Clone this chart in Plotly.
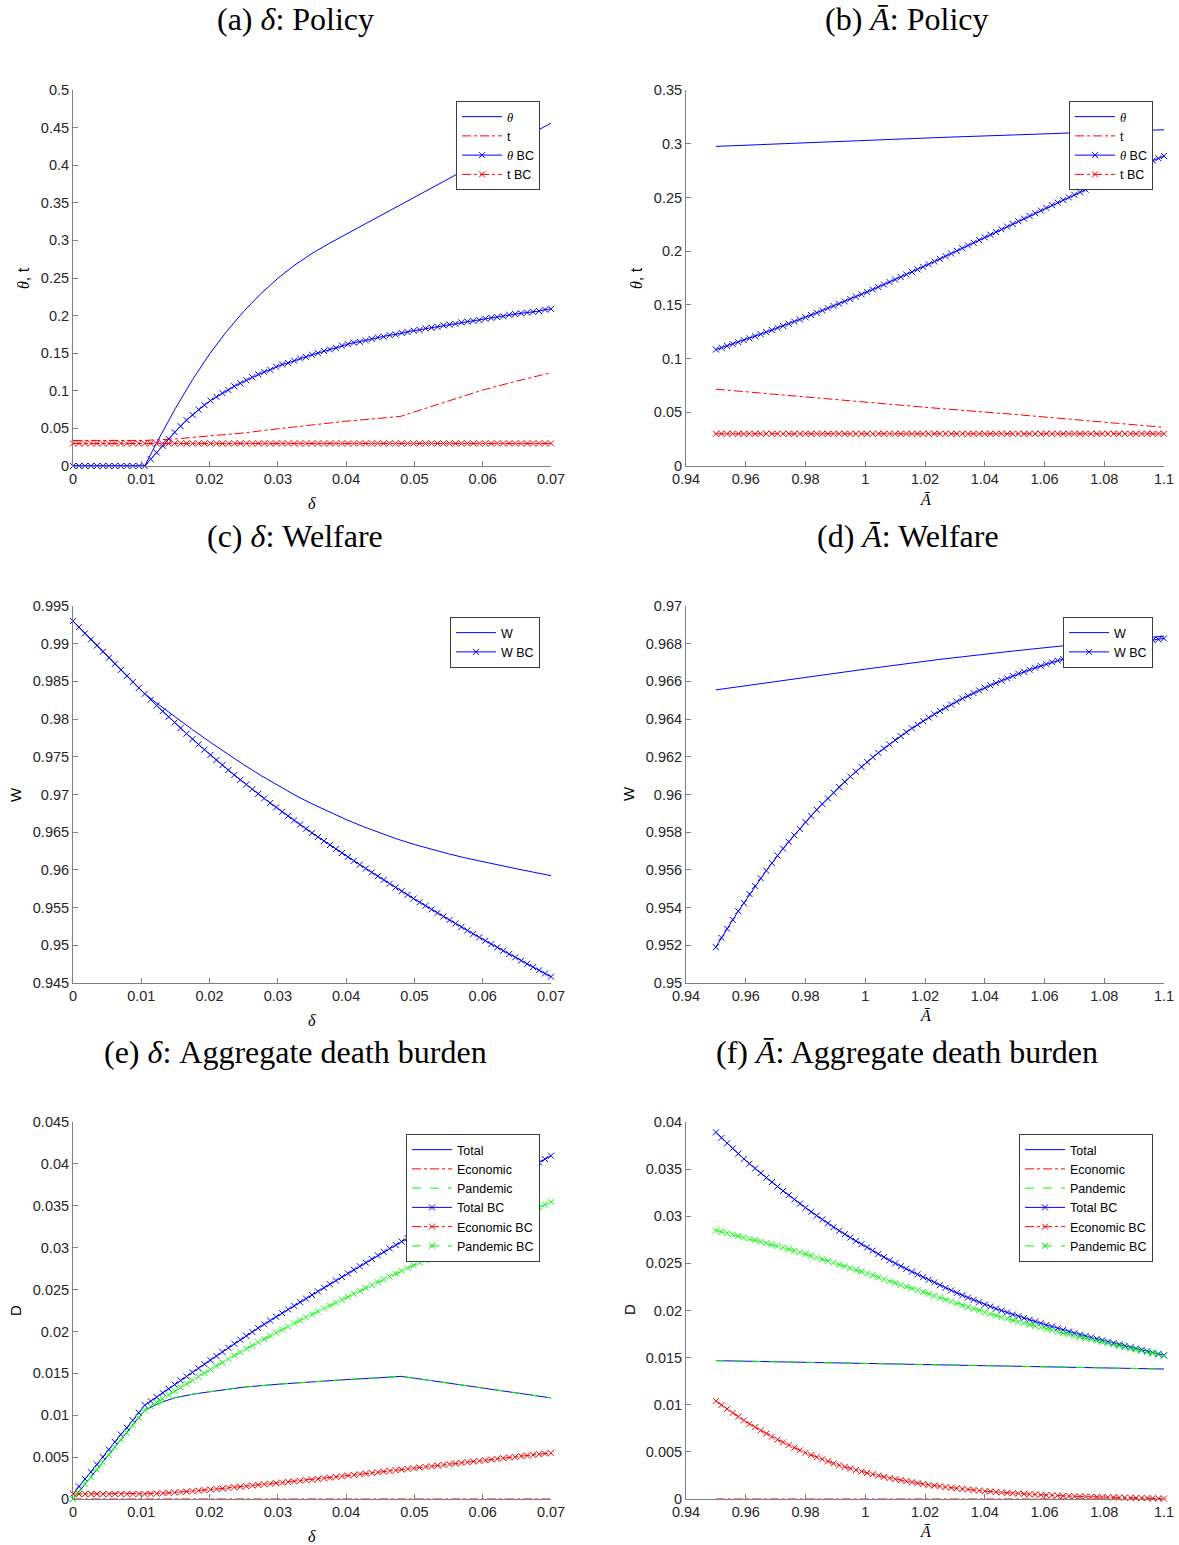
import numpy as np
import plotly.graph_objects as go

# ---------------- parameter grids ----------------
delta_grid = np.linspace(0.0, 0.07, 81)
abar_grid = np.linspace(0.95, 1.10, 81)

# ---------------- (a) delta : policy ----------------
delta_theta_x = [0, 0.0105, 0.0125, 0.015, 0.0175, 0.02, 0.0225, 0.025, 0.0275, 0.03, 0.0325,
                 0.035, 0.0375, 0.04, 0.0425, 0.045, 0.048, 0.05, 0.055, 0.06, 0.065, 0.07]
theta_delta = [0, 0, 0.0352, 0.0767, 0.1148, 0.1489, 0.1790, 0.2056, 0.2291, 0.2496, 0.2674,
               0.2827, 0.2959, 0.3082, 0.3202, 0.3322, 0.3466, 0.3565, 0.3813, 0.4062, 0.4311, 0.456]
delta_t_x = [0, 0.0105, 0.015, 0.02, 0.025, 0.03, 0.035, 0.04, 0.045, 0.048, 0.05, 0.055, 0.06, 0.065, 0.07]
t_delta = [0.034, 0.034, 0.036, 0.040, 0.044, 0.0495, 0.0548, 0.0596, 0.0635, 0.066, 0.072, 0.087,
           0.101, 0.113, 0.124]
theta_bc_delta = [
    0, 0, 0, 0, 0, 0, 0, 0, 0, 0,
    0, 0, 0, 0.009, 0.018, 0.027, 0.036, 0.045, 0.053, 0.061,
    0.068, 0.075, 0.081, 0.087, 0.092, 0.097, 0.101, 0.106, 0.110, 0.114,
    0.118, 0.122, 0.125, 0.128, 0.132, 0.135, 0.137, 0.140, 0.143, 0.145,
    0.148, 0.150, 0.153, 0.155, 0.157, 0.160, 0.162, 0.164, 0.165, 0.167,
    0.169, 0.171, 0.172, 0.174, 0.175, 0.177, 0.178, 0.180, 0.181, 0.183,
    0.184, 0.185, 0.187, 0.188, 0.189, 0.191, 0.192, 0.193, 0.194, 0.196,
    0.197, 0.198, 0.199, 0.201, 0.202, 0.203, 0.204, 0.205, 0.206, 0.208,
    0.209]
t_bc_delta = [
    0.03, 0.03, 0.03, 0.03, 0.03, 0.03, 0.03, 0.03, 0.03, 0.03,
    0.03, 0.03, 0.03, 0.03, 0.03, 0.03, 0.03, 0.03, 0.03, 0.03,
    0.03, 0.03, 0.03, 0.03, 0.03, 0.03, 0.03, 0.03, 0.03, 0.03,
    0.03, 0.03, 0.03, 0.03, 0.03, 0.03, 0.03, 0.03, 0.03, 0.03,
    0.03, 0.03, 0.03, 0.03, 0.03, 0.03, 0.03, 0.03, 0.03, 0.03,
    0.03, 0.03, 0.03, 0.03, 0.03, 0.03, 0.03, 0.03, 0.03, 0.03,
    0.03, 0.03, 0.03, 0.03, 0.03, 0.03, 0.03, 0.03, 0.03, 0.03,
    0.03, 0.03, 0.03, 0.03, 0.03, 0.03, 0.03, 0.03, 0.03, 0.03,
    0.03]

# ---------------- (b) Abar : policy ----------------
abar_line_x = [0.95, 0.975, 1.0, 1.025, 1.05, 1.075, 1.1]
theta_abar = [0.2975, 0.3005, 0.3033, 0.3058, 0.3082, 0.3107, 0.3130]
t_abar = [0.0715, 0.0653, 0.0592, 0.0535, 0.0480, 0.0420, 0.0360]
theta_bc_abar = [
    0.1084, 0.1101, 0.1118, 0.1135, 0.1153, 0.1171, 0.1189, 0.1208, 0.1227, 0.1246,
    0.1265, 0.1285, 0.1304, 0.1324, 0.1344, 0.1364, 0.1384, 0.1405, 0.1426, 0.1447,
    0.1468, 0.1489, 0.1510, 0.1532, 0.1554, 0.1576, 0.1598, 0.1620, 0.1643, 0.1666,
    0.1689, 0.1712, 0.1735, 0.1758, 0.1782, 0.1806, 0.1830, 0.1854, 0.1878, 0.1903,
    0.1928, 0.1953, 0.1978, 0.2003, 0.2028, 0.2053, 0.2078, 0.2103, 0.2128, 0.2153,
    0.2178, 0.2203, 0.2228, 0.2253, 0.2278, 0.2303, 0.2328, 0.2353, 0.2378, 0.2403,
    0.2428, 0.2452, 0.2476, 0.2500, 0.2524, 0.2548, 0.2572, 0.2596, 0.2620, 0.2643,
    0.2666, 0.2689, 0.2712, 0.2734, 0.2756, 0.2778, 0.2800, 0.2822, 0.2843, 0.2864,
    0.2885]
t_bc_abar = [
    0.03, 0.03, 0.03, 0.03, 0.03, 0.03, 0.03, 0.03, 0.03, 0.03,
    0.03, 0.03, 0.03, 0.03, 0.03, 0.03, 0.03, 0.03, 0.03, 0.03,
    0.03, 0.03, 0.03, 0.03, 0.03, 0.03, 0.03, 0.03, 0.03, 0.03,
    0.03, 0.03, 0.03, 0.03, 0.03, 0.03, 0.03, 0.03, 0.03, 0.03,
    0.03, 0.03, 0.03, 0.03, 0.03, 0.03, 0.03, 0.03, 0.03, 0.03,
    0.03, 0.03, 0.03, 0.03, 0.03, 0.03, 0.03, 0.03, 0.03, 0.03,
    0.03, 0.03, 0.03, 0.03, 0.03, 0.03, 0.03, 0.03, 0.03, 0.03,
    0.03, 0.03, 0.03, 0.03, 0.03, 0.03, 0.03, 0.03, 0.03, 0.03,
    0.03]

# ---------------- (c) delta : welfare ----------------
delta_w_x = [0, 0.0035, 0.007, 0.0105, 0.0125, 0.015, 0.0175, 0.02, 0.0225, 0.025, 0.0275, 0.03,
             0.0325, 0.035, 0.0375, 0.04, 0.0425, 0.045, 0.0475, 0.05, 0.0525, 0.055, 0.0575,
             0.06, 0.065, 0.07]
w_delta = [0.9930, 0.98975, 0.98652, 0.98335, 0.98195, 0.98025, 0.97860, 0.97700, 0.97545, 0.97395,
           0.97253, 0.97118, 0.96992, 0.96876, 0.96768, 0.96668, 0.96574, 0.96487, 0.96408, 0.96337,
           0.96272, 0.96213, 0.96158, 0.96108, 0.96014, 0.95923]
w_bc_delta = [
    0.99300, 0.99219, 0.99137, 0.99056, 0.98975, 0.98894, 0.98813, 0.98732, 0.98652, 0.98572,
    0.98492, 0.98413, 0.98335, 0.98257, 0.98180, 0.98104, 0.98029, 0.97954, 0.97880, 0.97807,
    0.97735, 0.97664, 0.97594, 0.97525, 0.97457, 0.97390, 0.97324, 0.97259, 0.97195, 0.97132,
    0.97070, 0.97009, 0.96948, 0.96888, 0.96829, 0.96771, 0.96714, 0.96657, 0.96601, 0.96546,
    0.96491, 0.96437, 0.96383, 0.96330, 0.96277, 0.96224, 0.96172, 0.96120, 0.96069, 0.96018,
    0.95967, 0.95917, 0.95867, 0.95817, 0.95767, 0.95718, 0.95669, 0.95620, 0.95572, 0.95524,
    0.95476, 0.95429, 0.95382, 0.95335, 0.95289, 0.95243, 0.95197, 0.95151, 0.95106, 0.95061,
    0.95016, 0.94972, 0.94928, 0.94884, 0.94840, 0.94797, 0.94754, 0.94711, 0.94668, 0.94626,
    0.94584]

# ---------------- (d) Abar : welfare ----------------
w_abar = [0.96555, 0.96612, 0.96665, 0.96717, 0.96762, 0.96803, 0.96840]
w_bc_abar = [
    0.95190, 0.95240, 0.95288, 0.95335, 0.95381, 0.95424, 0.95472, 0.95515, 0.95556, 0.95596,
    0.95636, 0.95676, 0.95713, 0.95749, 0.95784, 0.95817, 0.95854, 0.95887, 0.95919, 0.95950,
    0.95979, 0.96010, 0.96040, 0.96068, 0.96095, 0.96121, 0.96147, 0.96173, 0.96198, 0.96221,
    0.96244, 0.96266, 0.96289, 0.96310, 0.96331, 0.96351, 0.96370, 0.96389, 0.96408, 0.96426,
    0.96443, 0.96460, 0.96477, 0.96493, 0.96509, 0.96523, 0.96538, 0.96552, 0.96566, 0.96579,
    0.96592, 0.96604, 0.96616, 0.96629, 0.96641, 0.96651, 0.96662, 0.96672, 0.96682, 0.96692,
    0.96702, 0.96710, 0.96719, 0.96727, 0.96735, 0.96743, 0.96750, 0.96757, 0.96764, 0.96771,
    0.96777, 0.96783, 0.96789, 0.96794, 0.96799, 0.96806, 0.96810, 0.96815, 0.96819, 0.96823,
    0.96828]

# ---------------- (e) delta : death burden ----------------
delta_d_x = [0, 0.0105, 0.012, 0.0135, 0.015, 0.0175, 0.02, 0.025, 0.03, 0.035, 0.04, 0.045,
             0.048, 0.05, 0.055, 0.06, 0.065, 0.07]
total_delta = [0.0, 0.0106, 0.0112, 0.0117, 0.0121, 0.0125, 0.0128, 0.01335, 0.0137, 0.0140,
               0.01425, 0.01448, 0.01464, 0.01442, 0.01384, 0.01326, 0.01267, 0.01207]
economic_delta = [0.0, 0.0, 0.0, 0.0, 0.0, 0.0, 0.0, 0.0, 0.0, 0.0, 0.0, 0.0, 0.0, 0.0, 0.0, 0.0, 0.0, 0.0]
pandemic_delta = [0.0, 0.0106, 0.0112, 0.0117, 0.0121, 0.0125, 0.0128, 0.01335, 0.0137, 0.0140,
                  0.01425, 0.01448, 0.01464, 0.01442, 0.01384, 0.01326, 0.01267, 0.01207]
total_bc_delta = [
    0.0006, 0.0015, 0.0024, 0.0032, 0.0041, 0.0050, 0.0059, 0.0068, 0.0077, 0.0085,
    0.0094, 0.0103, 0.0112, 0.01168, 0.01216, 0.01266, 0.01315, 0.01366, 0.01415, 0.01463,
    0.01512, 0.01561, 0.01610, 0.01658, 0.01707, 0.01756, 0.01805, 0.01853, 0.01901, 0.01948,
    0.01994, 0.02040, 0.02085, 0.02130, 0.02175, 0.02219, 0.02263, 0.02306, 0.02349, 0.02392,
    0.02435, 0.02478, 0.02521, 0.02564, 0.02607, 0.02650, 0.02693, 0.02736, 0.02779, 0.02822,
    0.02865, 0.02908, 0.02950, 0.02991, 0.03032, 0.03073, 0.03114, 0.03155, 0.03196, 0.03237,
    0.03278, 0.03319, 0.03360, 0.03401, 0.03442, 0.03483, 0.03524, 0.03565, 0.03606, 0.03647,
    0.03688, 0.03729, 0.03770, 0.03811, 0.03852, 0.03893, 0.03934, 0.03975, 0.04016, 0.04057,
    0.04098]
economic_bc_delta = [
    0.0006, 0.0006, 0.0006, 0.0006, 0.0006, 0.0006, 0.0006, 0.0006, 0.0006, 0.0006,
    0.0006, 0.0006, 0.0006, 0.00062, 0.00065, 0.00069, 0.00073, 0.00078, 0.00083, 0.00088,
    0.00094, 0.00100, 0.00106, 0.00112, 0.00119, 0.00126, 0.00133, 0.00140, 0.00147, 0.00154,
    0.00161, 0.00168, 0.00175, 0.00182, 0.00189, 0.00196, 0.00203, 0.00210, 0.00217, 0.00224,
    0.00231, 0.00239, 0.00247, 0.00255, 0.00263, 0.00271, 0.00279, 0.00287, 0.00295, 0.00303,
    0.00311, 0.00319, 0.00327, 0.00335, 0.00343, 0.00351, 0.00359, 0.00367, 0.00375, 0.00383,
    0.00391, 0.00399, 0.00407, 0.00415, 0.00423, 0.00431, 0.00439, 0.00447, 0.00455, 0.00463,
    0.00471, 0.00479, 0.00487, 0.00495, 0.00503, 0.00511, 0.00519, 0.00527, 0.00535, 0.00543,
    0.00551]
pandemic_bc_delta = [
    0.0000, 0.0009, 0.0018, 0.0026, 0.0035, 0.0044, 0.0053, 0.0062, 0.0071, 0.0079,
    0.0088, 0.0097, 0.0106, 0.01106, 0.01151, 0.01197, 0.01242, 0.01288, 0.01332, 0.01375,
    0.01418, 0.01461, 0.01504, 0.01546, 0.01588, 0.01630, 0.01672, 0.01713, 0.01754, 0.01794,
    0.01833, 0.01872, 0.01910, 0.01948, 0.01986, 0.02023, 0.02060, 0.02096, 0.02132, 0.02168,
    0.02204, 0.02239, 0.02274, 0.02309, 0.02344, 0.02379, 0.02414, 0.02449, 0.02484, 0.02519,
    0.02554, 0.02589, 0.02623, 0.02656, 0.02689, 0.02722, 0.02755, 0.02788, 0.02821, 0.02854,
    0.02887, 0.02920, 0.02953, 0.02986, 0.03019, 0.03052, 0.03085, 0.03118, 0.03151, 0.03184,
    0.03217, 0.03250, 0.03283, 0.03316, 0.03349, 0.03382, 0.03415, 0.03448, 0.03481, 0.03514,
    0.03547]

# ---------------- (f) Abar : death burden ----------------
total_abar = [0.01468, 0.01453, 0.01438, 0.01423, 0.01408, 0.01393, 0.01379]
economic_abar = [0.0, 0.0, 0.0, 0.0, 0.0, 0.0, 0.0]
pandemic_abar = [0.01468, 0.01453, 0.01438, 0.01423, 0.01408, 0.01393, 0.01379]
total_bc_abar = [
    0.03890, 0.03832, 0.03775, 0.03719, 0.03664, 0.03609, 0.03557, 0.03507, 0.03458, 0.03409,
    0.03362, 0.03315, 0.03269, 0.03223, 0.03178, 0.03134, 0.03090, 0.03048, 0.03007, 0.02966,
    0.02925, 0.02884, 0.02846, 0.02810, 0.02774, 0.02738, 0.02704, 0.02669, 0.02635, 0.02600,
    0.02566, 0.02533, 0.02500, 0.02470, 0.02442, 0.02412, 0.02383, 0.02354, 0.02326, 0.02298,
    0.02269, 0.02241, 0.02214, 0.02187, 0.02162, 0.02137, 0.02113, 0.02088, 0.02063, 0.02042,
    0.02020, 0.01999, 0.01979, 0.01957, 0.01938, 0.01919, 0.01901, 0.01883, 0.01864, 0.01846,
    0.01829, 0.01811, 0.01794, 0.01776, 0.01759, 0.01744, 0.01729, 0.01714, 0.01700, 0.01684,
    0.01669, 0.01655, 0.01640, 0.01626, 0.01611, 0.01597, 0.01583, 0.01567, 0.01553, 0.01539,
    0.01525]
economic_bc_abar = [
    0.01040, 0.00997, 0.00955, 0.00914, 0.00874, 0.00834, 0.00797, 0.00762, 0.00728, 0.00694,
    0.00662, 0.00631, 0.00601, 0.00572, 0.00544, 0.00517, 0.00490, 0.00467, 0.00444, 0.00422,
    0.00400, 0.00378, 0.00358, 0.00341, 0.00324, 0.00307, 0.00291, 0.00276, 0.00262, 0.00248,
    0.00235, 0.00222, 0.00210, 0.00199, 0.00189, 0.00178, 0.00168, 0.00158, 0.00150, 0.00142,
    0.00134, 0.00127, 0.00120, 0.00113, 0.00107, 0.00101, 0.00095, 0.00089, 0.00083, 0.00079,
    0.00074, 0.00070, 0.00066, 0.00061, 0.00058, 0.00054, 0.00051, 0.00048, 0.00044, 0.00041,
    0.00039, 0.00036, 0.00034, 0.00031, 0.00029, 0.00027, 0.00025, 0.00023, 0.00022, 0.00020,
    0.00018, 0.00017, 0.00015, 0.00014, 0.00012, 0.00011, 0.00010, 0.00008, 0.00007, 0.00006,
    0.00005]
pandemic_bc_abar = [
    0.02850, 0.02835, 0.02820, 0.02805, 0.02790, 0.02775, 0.02760, 0.02745, 0.02730, 0.02715,
    0.02700, 0.02684, 0.02668, 0.02651, 0.02634, 0.02617, 0.02600, 0.02581, 0.02563, 0.02544,
    0.02525, 0.02506, 0.02488, 0.02469, 0.02450, 0.02431, 0.02413, 0.02393, 0.02373, 0.02352,
    0.02331, 0.02311, 0.02290, 0.02271, 0.02253, 0.02234, 0.02215, 0.02196, 0.02176, 0.02156,
    0.02135, 0.02114, 0.02094, 0.02074, 0.02055, 0.02036, 0.02018, 0.01999, 0.01980, 0.01963,
    0.01946, 0.01929, 0.01913, 0.01896, 0.01880, 0.01865, 0.01850, 0.01835, 0.01820, 0.01805,
    0.01790, 0.01775, 0.01760, 0.01745, 0.01730, 0.01717, 0.01704, 0.01691, 0.01678, 0.01664,
    0.01651, 0.01638, 0.01625, 0.01612, 0.01599, 0.01586, 0.01573, 0.01559, 0.01546, 0.01533,
    0.01520]

# ---------------- tick values / labels ----------------
delta_ticks = [0, 0.01, 0.02, 0.03, 0.04, 0.05, 0.06, 0.07]
delta_ticktext = ["0", "0.01", "0.02", "0.03", "0.04", "0.05", "0.06", "0.07"]
abar_ticks = [0.94, 0.96, 0.98, 1.0, 1.02, 1.04, 1.06, 1.08, 1.1]
abar_ticktext = ["0.94", "0.96", "0.98", "1", "1.02", "1.04", "1.06", "1.08", "1.1"]
ya_ticks = [0, 0.05, 0.1, 0.15, 0.2, 0.25, 0.3, 0.35, 0.4, 0.45, 0.5]
ya_text = ["0", "0.05", "0.1", "0.15", "0.2", "0.25", "0.3", "0.35", "0.4", "0.45", "0.5"]
yb_ticks = [0, 0.05, 0.1, 0.15, 0.2, 0.25, 0.3, 0.35]
yb_text = ["0", "0.05", "0.1", "0.15", "0.2", "0.25", "0.3", "0.35"]
yc_ticks = [0.945, 0.95, 0.955, 0.96, 0.965, 0.97, 0.975, 0.98, 0.985, 0.99, 0.995]
yc_text = ["0.945", "0.95", "0.955", "0.96", "0.965", "0.97", "0.975", "0.98", "0.985", "0.99", "0.995"]
yd_ticks = [0.95, 0.952, 0.954, 0.956, 0.958, 0.96, 0.962, 0.964, 0.966, 0.968, 0.97]
yd_text = ["0.95", "0.952", "0.954", "0.956", "0.958", "0.96", "0.962", "0.964", "0.966", "0.968", "0.97"]
ye_ticks = [0, 0.005, 0.01, 0.015, 0.02, 0.025, 0.03, 0.035, 0.04, 0.045]
ye_text = ["0", "0.005", "0.01", "0.015", "0.02", "0.025", "0.03", "0.035", "0.04", "0.045"]
yf_ticks = [0, 0.005, 0.01, 0.015, 0.02, 0.025, 0.03, 0.035, 0.04]
yf_text = ["0", "0.005", "0.01", "0.015", "0.02", "0.025", "0.03", "0.035", "0.04"]

# ---------------- styling / geometry ----------------
FIG_W, FIG_H = 1179, 1545


def fx(X):
    return X / FIG_W


def fy(Y):
    return 1 - Y / FIG_H


BLUE, RED, GREEN = "#0000FF", "#FF0000", "#00FF00"
AXC = "#808080"
TICKFONT = dict(family="Liberation Sans, Arial, sans-serif", size=14.5, color="#262626")
SERIF = "Liberation Serif, Times New Roman, serif"
SANS = "Liberation Sans, Arial, sans-serif"
TH = '<span style="font-family:Liberation Serif"><i>θ</i></span>'

fig = go.Figure()


def add_line(x, y, color, dash, name, ax, leg):
    fig.add_trace(go.Scatter(x=x, y=y, mode="lines", name=name,
                             line=dict(color=color, width=1, dash=dash),
                             xaxis="x" + ax, yaxis="y" + ax, legend=leg))


def add_marked(x, y, color, dash, name, ax, leg):
    fig.add_trace(go.Scatter(x=x, y=y, mode="lines+markers", name=name,
                             line=dict(color=color, width=1, dash=dash),
                             marker=dict(symbol="x-thin", size=6, color=color,
                                         line=dict(color=color, width=1)),
                             cliponaxis=False,
                             xaxis="x" + ax, yaxis="y" + ax, legend=leg))


# (a)
add_line(delta_theta_x, theta_delta, BLUE, "solid", TH, "", "legend")
add_line(delta_t_x, t_delta, RED, "dashdot", "t", "", "legend")
add_marked(delta_grid, theta_bc_delta, BLUE, "solid", TH + " BC", "", "legend")
add_marked(delta_grid, t_bc_delta, RED, "dashdot", "t BC", "", "legend")
# (b)
add_line(abar_line_x, theta_abar, BLUE, "solid", TH, "2", "legend2")
add_line(abar_line_x, t_abar, RED, "dashdot", "t", "2", "legend2")
add_marked(abar_grid, theta_bc_abar, BLUE, "solid", TH + " BC", "2", "legend2")
add_marked(abar_grid, t_bc_abar, RED, "dashdot", "t BC", "2", "legend2")
# (c)
add_line(delta_w_x, w_delta, BLUE, "solid", "W", "3", "legend3")
add_marked(delta_grid, w_bc_delta, BLUE, "solid", "W BC", "3", "legend3")
# (d)
add_line(abar_line_x, w_abar, BLUE, "solid", "W", "4", "legend4")
add_marked(abar_grid, w_bc_abar, BLUE, "solid", "W BC", "4", "legend4")
# (e)
add_line(delta_d_x, total_delta, BLUE, "solid", "Total", "5", "legend5")
add_line(delta_d_x, economic_delta, RED, "dashdot", "Economic", "5", "legend5")
add_line(delta_d_x, pandemic_delta, GREEN, "dash", "Pandemic", "5", "legend5")
add_marked(delta_grid, total_bc_delta, BLUE, "solid", "Total BC", "5", "legend5")
add_marked(delta_grid, economic_bc_delta, RED, "dashdot", "Economic BC", "5", "legend5")
add_marked(delta_grid, pandemic_bc_delta, GREEN, "dash", "Pandemic BC", "5", "legend5")
# (f)
add_line(abar_line_x, total_abar, BLUE, "solid", "Total", "6", "legend6")
add_line(abar_line_x, economic_abar, RED, "dashdot", "Economic", "6", "legend6")
add_line(abar_line_x, pandemic_abar, GREEN, "dash", "Pandemic", "6", "legend6")
add_marked(abar_grid, total_bc_abar, BLUE, "solid", "Total BC", "6", "legend6")
add_marked(abar_grid, economic_bc_abar, RED, "dashdot", "Economic BC", "6", "legend6")
add_marked(abar_grid, pandemic_bc_abar, GREEN, "dash", "Pandemic BC", "6", "legend6")

LEFT = (73, 551)
RIGHT = (686, 1164)
ROWS = [(90, 466), (606, 983), (1122, 1499)]

panels = [
    ("", LEFT, ROWS[0], [0, 0.07], delta_ticks, delta_ticktext, [0, 0.5], ya_ticks, ya_text),
    ("2", RIGHT, ROWS[0], [0.94, 1.1], abar_ticks, abar_ticktext, [0, 0.35], yb_ticks, yb_text),
    ("3", LEFT, ROWS[1], [0, 0.07], delta_ticks, delta_ticktext, [0.945, 0.995], yc_ticks, yc_text),
    ("4", RIGHT, ROWS[1], [0.94, 1.1], abar_ticks, abar_ticktext, [0.95, 0.97], yd_ticks, yd_text),
    ("5", LEFT, ROWS[2], [0, 0.07], delta_ticks, delta_ticktext, [0, 0.045], ye_ticks, ye_text),
    ("6", RIGHT, ROWS[2], [0.94, 1.1], abar_ticks, abar_ticktext, [0, 0.04], yf_ticks, yf_text),
]

common = dict(showline=True, linecolor=AXC, linewidth=1, ticks="inside", ticklen=5,
              tickcolor=AXC, tickwidth=1, showgrid=False, zeroline=False, mirror=False,
              tickfont=TICKFONT, fixedrange=True, automargin=False)

layout_axes = {}
for ax, (x0, x1), (ytop, ybot), xr, xtv, xtt, yr, ytv, ytt in panels:
    layout_axes["xaxis" + ax] = dict(domain=[fx(x0), fx(x1)], range=xr, anchor="y" + ax,
                                     tickmode="array", tickvals=xtv, ticktext=xtt, **common)
    layout_axes["yaxis" + ax] = dict(domain=[fy(ybot), fy(ytop)], range=yr, anchor="x" + ax,
                                     tickmode="array", tickvals=ytv, ticktext=ytt, **common)

legend_style = dict(font=dict(family=SANS, size=12.5, color="#000000"), bgcolor="white",
                    bordercolor="#3c3c3c", borderwidth=1, xanchor="right", yanchor="top",
                    itemwidth=40, tracegroupgap=0, itemclick=False, itemdoubleclick=False)
legend_pos = {"legend": (540, 101), "legend2": (1153, 101), "legend3": (540, 617),
              "legend4": (1153, 617), "legend5": (540, 1134), "legend6": (1153, 1134)}
layout_legends = {k: dict(x=fx(X), y=fy(Y), **legend_style) for k, (X, Y) in legend_pos.items()}

annotations = []


def ann(text, X, Y, size, family, angle=0):
    annotations.append(dict(text=text, x=fx(X), y=fy(Y), xref="paper", yref="paper",
                            showarrow=False, xanchor="center", yanchor="middle",
                            textangle=angle, font=dict(family=family, size=size, color="#000000")))


# titles
ann("(a) <i>δ</i>: Policy", 295, 19, 32, SERIF)
ann("(b) <i>Ā</i>: Policy", 907, 19, 32, SERIF)
ann("(c) <i>δ</i>: Welfare", 295, 536, 32, SERIF)
ann("(d) <i>Ā</i>: Welfare", 908, 536, 32, SERIF)
ann("(e) <i>δ</i>: Aggregate death burden", 295, 1052, 32, SERIF)
ann("(f) <i>Ā</i>: Aggregate death burden", 907, 1052, 32, SERIF)
# x labels
ann("<i>δ</i>", 312, 503, 16, SERIF)
ann("<i>Ā</i>", 925, 499, 16, SERIF)
ann("<i>δ</i>", 312, 1020, 16, SERIF)
ann("<i>Ā</i>", 925, 1016, 16, SERIF)
ann("<i>δ</i>", 312, 1536, 16, SERIF)
ann("<i>Ā</i>", 925, 1531, 16, SERIF)
# y labels
ann(TH + ", t", 24, 278, 16, SANS, -90)
ann(TH + ", t", 637, 278, 16, SANS, -90)
ann("W", 15, 794, 15, SANS, -90)
ann("W", 628, 794, 15, SANS, -90)
ann("D", 15, 1310, 15, SANS, -90)
ann("D", 629, 1310, 15, SANS, -90)

fig.update_layout(width=FIG_W, height=FIG_H,
                  margin=dict(l=0, r=0, t=0, b=0, pad=0, autoexpand=False),
                  paper_bgcolor="white", plot_bgcolor="white", showlegend=True,
                  annotations=annotations, **layout_axes, **layout_legends)

fig.write_html("out.html", config={"displayModeBar": False, "staticPlot": False},
               post_script="document.body.style.margin='0px';document.body.style.overflow='hidden';")
